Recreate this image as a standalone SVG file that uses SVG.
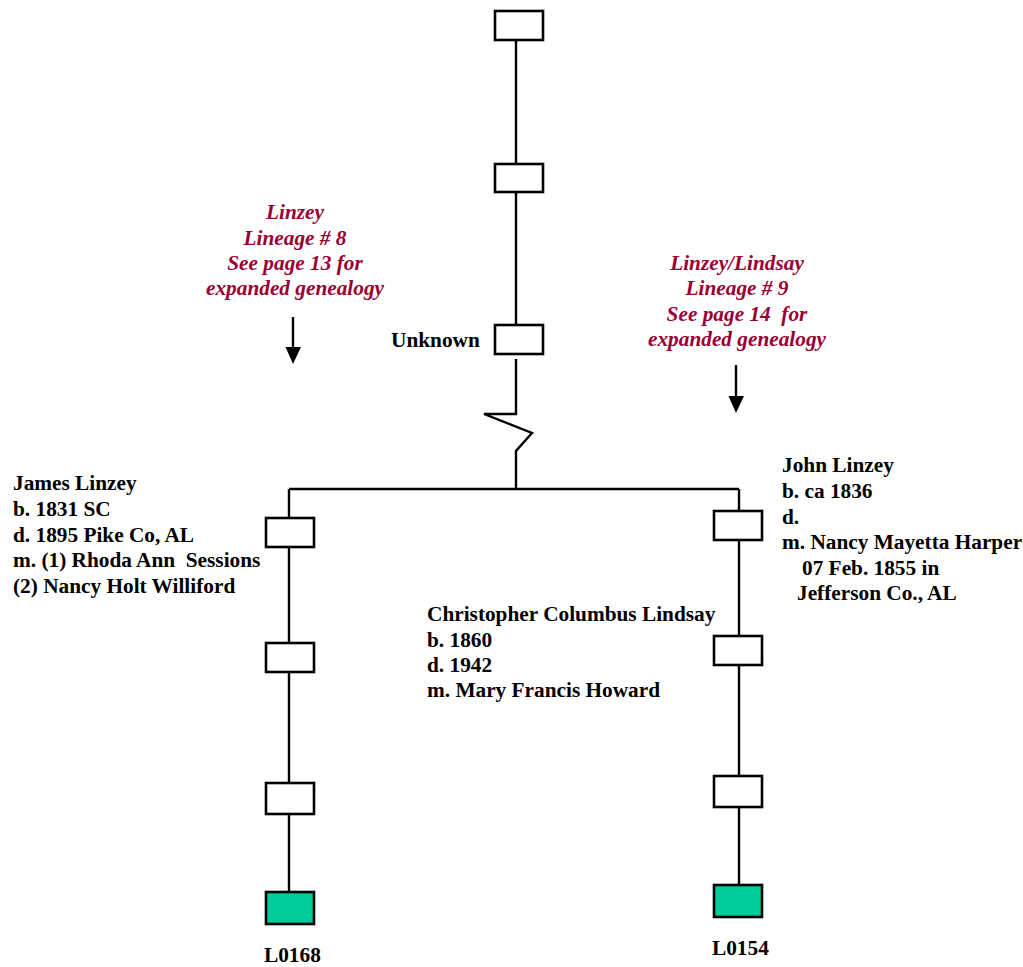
<svg xmlns="http://www.w3.org/2000/svg" width="1023" height="967" viewBox="0 0 1023 967">
<style>
.box{fill:#fff;stroke:#000;stroke-width:2.6}
.g{fill:#00cc99}
.ln{fill:none;stroke:#000;stroke-width:2.4}
.t{font-family:"Liberation Serif",serif;font-weight:bold;font-size:21.3px;fill:#000}
.p{font-family:"Liberation Serif",serif;font-weight:bold;font-style:italic;font-size:21.3px;fill:#990033;text-anchor:middle}
</style>
<rect width="1023" height="967" fill="#fff"/>
<g id="connectors">
<path class="ln" d="M516,41 V325 M516,359 V414 H484 L532,433 L516,451 V489 M289,489 H739 M289,489 V891 M739,489 V884"/>
<line class="ln" x1="293" y1="317" x2="293" y2="348" />
<path d="M285.5,347 L301,347 L293,364 Z" fill="#000"/>
<line class="ln" x1="736" y1="365" x2="736" y2="397" />
<path d="M728.5,396 L744,396 L736,413 Z" fill="#000"/>
</g>
<g id="n-top"><rect class="box" x="495" y="11" width="48" height="29"/></g>
<g id="n-2"><rect class="box" x="495" y="164" width="48" height="28"/></g>
<g id="n-unknown"><rect class="box" x="495" y="325" width="48" height="29"/><text class="t" x="391" y="347">Unknown</text></g>
<g id="n-l1"><rect class="box" x="266" y="518" width="48" height="29"/></g>
<g id="n-l2"><rect class="box" x="266" y="643" width="48" height="29"/></g>
<g id="n-l3"><rect class="box" x="266" y="783" width="48" height="31"/></g>
<g id="n-l4"><rect class="box g" x="266" y="892" width="48" height="32"/><text class="t" x="264" y="962">L0168</text></g>
<g id="n-r1"><rect class="box" x="714" y="511" width="48" height="29"/></g>
<g id="n-r2"><rect class="box" x="714" y="636" width="48" height="29"/></g>
<g id="n-r3"><rect class="box" x="714" y="776" width="48" height="31"/></g>
<g id="n-r4"><rect class="box g" x="714" y="885" width="48" height="32"/><text class="t" x="712" y="955">L0154</text></g>
<g id="lbl-lineage8">
<text class="p" x="295" y="219">Linzey</text>
<text class="p" x="295" y="245">Lineage # 8</text>
<text class="p" x="295" y="270">See page 13 for</text>
<text class="p" x="295" y="295">expanded genealogy</text>
</g>
<g id="lbl-lineage9">
<text class="p" x="737" y="270">Linzey/Lindsay</text>
<text class="p" x="737" y="295">Lineage # 9</text>
<text class="p" x="737" y="321" xml:space="preserve">See page 14  for</text>
<text class="p" x="737" y="346">expanded genealogy</text>
</g>
<g id="lbl-james">
<text class="t" x="13" y="490">James Linzey</text>
<text class="t" x="13" y="516">b. 1831 SC</text>
<text class="t" x="13" y="542">d. 1895 Pike Co, AL</text>
<text class="t" x="13" y="567" xml:space="preserve">m. (1) Rhoda Ann  Sessions</text>
<text class="t" x="13" y="593">(2) Nancy Holt Williford</text>
</g>
<g id="lbl-john">
<text class="t" x="782" y="472">John Linzey</text>
<text class="t" x="782" y="498">b. ca 1836</text>
<text class="t" x="782" y="524">d.</text>
<text class="t" x="782" y="549">m. Nancy Mayetta Harper</text>
<text class="t" x="802" y="575">07 Feb. 1855 in</text>
<text class="t" x="797" y="600">Jefferson Co., AL</text>
</g>
<g id="lbl-christopher">
<text class="t" x="427" y="621">Christopher Columbus Lindsay</text>
<text class="t" x="427" y="647">b. 1860</text>
<text class="t" x="427" y="672">d. 1942</text>
<text class="t" x="427" y="697">m. Mary Francis Howard</text>
</g>
</svg>
